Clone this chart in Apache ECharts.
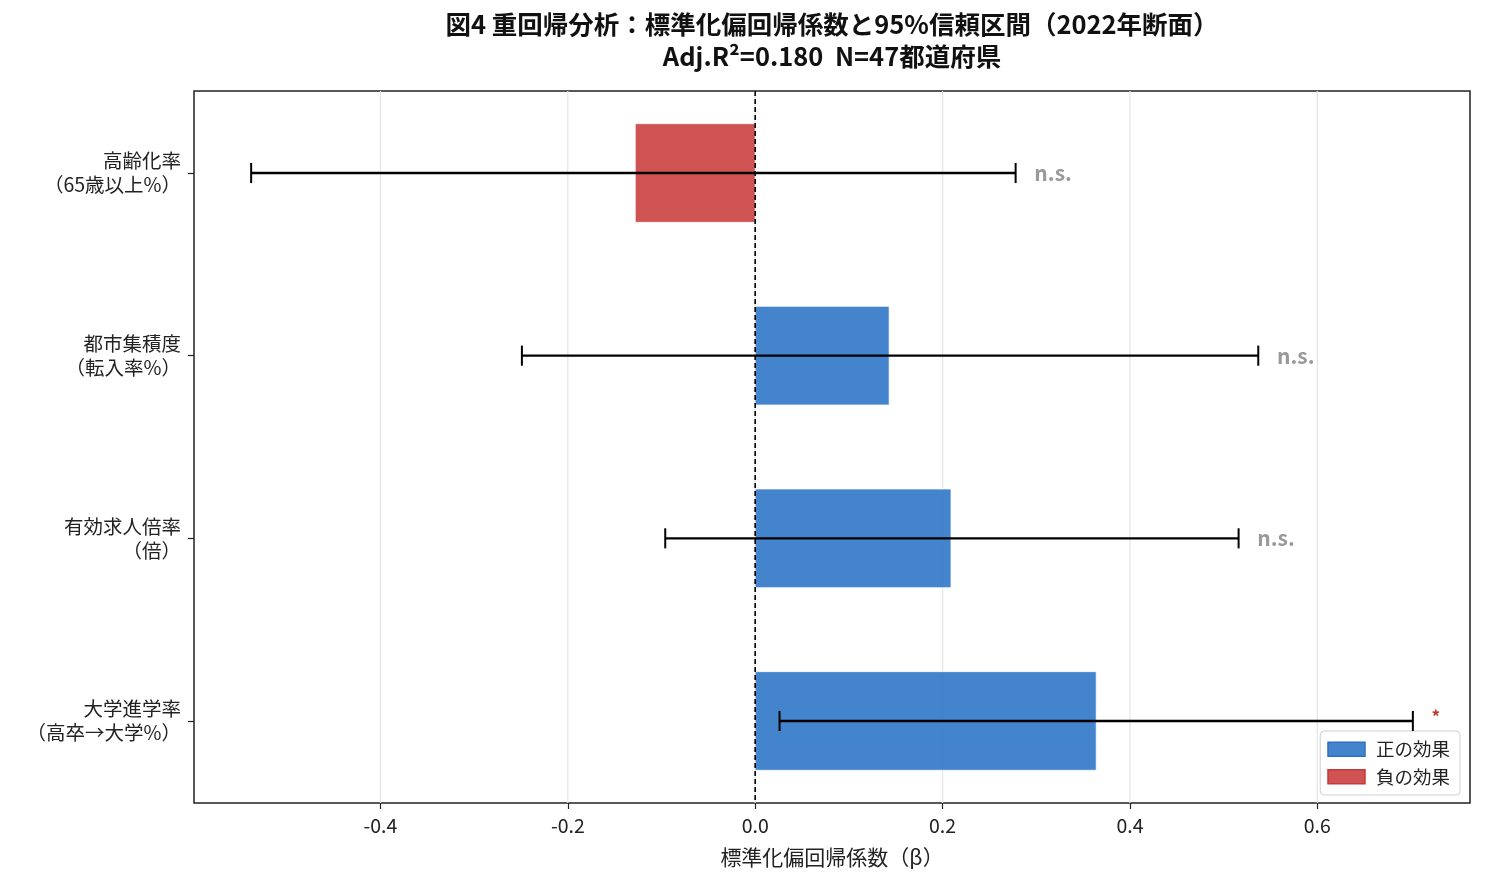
<!DOCTYPE html>
<html>
<head>
<meta charset="utf-8">
<script src="https://cdn.jsdelivr.net/npm/echarts@6/dist/echarts.min.js"></script>
<style>
html,body{margin:0;padding:0;background:#fff;}
#chart{width:1485px;height:885px;}
</style>
</head>
<body>
<div id="chart"></div>
<script>
// ---- data ----
const categories = ['高齢化率\n（65歳以上%）', '都市集積度\n（転入率%）', '有効求人倍率\n（倍）', '大学進学率\n（高卒→大学%）'];
const beta = [-0.128, 0.143, 0.209, 0.364];
const ciLow = [-0.538, -0.249, -0.096, 0.026];
const ciHigh = [0.278, 0.537, 0.516, 0.702];
const sigLabels = ['n.s.', 'n.s.', 'n.s.', '*'];
const xTicks = [-0.4, -0.2, 0.0, 0.2, 0.4, 0.6];
const yTicks = [0, 1, 2, 3];

const FONT = 'Noto Sans CJK JP';
const POS_COLOR = 'rgba(35,110,195,0.85)';
const NEG_COLOR = 'rgba(200,53,53,0.85)';
const BAR_H = 0.54;
const CAP_H = 0.11;

const posData = [], negData = [];
beta.forEach((b, i) => { (b >= 0 ? posData : negData).push([b, i]); });
const errData = beta.map((b, i) => [ciLow[i], i, ciHigh[i]]);
const sigData = beta.map((b, i) => [ciHigh[i], i]);

function renderBar(params, api) {
  const v = api.value(0), i = api.value(1);
  const p0 = api.coord([0, i - BAR_H / 2]);
  const p1 = api.coord([v, i + BAR_H / 2]);
  const x = Math.min(p0[0], p1[0]), y = Math.min(p0[1], p1[1]);
  return {
    type: 'rect',
    shape: { x: x, y: y, width: Math.abs(p1[0] - p0[0]), height: Math.abs(p1[1] - p0[1]) },
    style: { fill: api.visual('color'), stroke: 'rgba(255,255,255,0.7)', lineWidth: 1 }
  };
}

const option = {
  animation: false,
  backgroundColor: '#fff',
  title: {
    text: '図4 重回帰分析：標準化偏回帰係数と95%信頼区間（2022年断面）\nAdj.R²=0.180  N=47都道府県',
    left: 827,
    textAlign: 'center',
    top: 3,
    textStyle: { fontFamily: FONT, fontWeight: 'bold', fontSize: 25.5, lineHeight: 32, color: '#111' }
  },
  legend: {
    orient: 'vertical',
    right: 25,
    bottom: 90,
    icon: 'rect',
    itemWidth: 37,
    itemHeight: 14,
    itemGap: 9,
    padding: [9, 10, 9, 7],
    backgroundColor: '#fff',
    borderColor: '#d0d0d0',
    borderWidth: 1,
    borderRadius: 4,
    textStyle: { fontFamily: FONT, fontSize: 18.5, color: '#222', padding: [0, 0, 0, 6] },
    data: [
      { name: '正の効果', itemStyle: { color: POS_COLOR, borderColor: '#2f6fc0', borderWidth: 1.5 } },
      { name: '負の効果', itemStyle: { color: NEG_COLOR, borderColor: '#c83a3a', borderWidth: 1.5 } }
    ]
  },
  grid: {
    left: 194, right: 15, top: 91, bottom: 82,
    show: true, borderColor: '#222', borderWidth: 1.5, backgroundColor: 'transparent'
  },
  xAxis: {
    type: 'value',
    min: -0.599,
    max: 0.763,
    axisLine: { show: false, onZero: false },
    axisTick: { show: true, customValues: xTicks, length: 6, lineStyle: { color: '#222', width: 1.2 } },
    axisLabel: {
      customValues: xTicks, margin: 13,
      fontFamily: FONT, fontSize: 19.5, color: '#222',
      formatter: v => Number(v).toFixed(1)
    },
    splitLine: { show: false },
    name: '標準化偏回帰係数（β）',
    nameLocation: 'middle',
    nameGap: 44,
    nameTextStyle: { fontFamily: FONT, fontSize: 21, color: '#222' }
  },
  yAxis: {
    type: 'value',
    inverse: true,
    min: -0.449,
    max: 3.449,
    axisLine: { show: false, onZero: false },
    axisTick: { show: true, customValues: yTicks, length: 6, lineStyle: { color: '#222', width: 1.2 } },
    axisLabel: {
      customValues: yTicks, margin: 13,
      fontFamily: FONT, fontSize: 19.5, lineHeight: 24, color: '#222', align: 'right',
      padding: [6, 0, 0, 0],
      formatter: v => categories[Math.round(v)] || ''
    },
    splitLine: { show: false }
  },
  series: [
    {
      type: 'custom', silent: true, z: 1,
      data: xTicks.map(v => [v, 0]),
      renderItem: (params, api) => {
        const cs = params.coordSys;
        const x = api.coord([api.value(0), 0])[0];
        return { type: 'line', shape: { x1: x, y1: cs.y, x2: x, y2: cs.y + cs.height },
          style: { stroke: '#e6e6e6', lineWidth: 1.3 } };
      }
    },
    {
      name: '正の効果', type: 'custom', z: 2,
      itemStyle: { color: POS_COLOR },
      data: posData, renderItem: renderBar
    },
    {
      name: '負の効果', type: 'custom', z: 2,
      itemStyle: { color: NEG_COLOR },
      data: negData, renderItem: renderBar
    },
    {
      type: 'custom', silent: true, z: 3,
      data: [[0, 0]],
      renderItem: (params, api) => {
        const cs = params.coordSys;
        const x = api.coord([0, 0])[0];
        return { type: 'line', shape: { x1: x, y1: cs.y, x2: x, y2: cs.y + cs.height },
          style: { stroke: '#000', lineWidth: 1.6, lineDash: [5, 3] } };
      }
    },
    {
      type: 'custom', silent: true, z: 4,
      data: errData,
      renderItem: (params, api) => {
        const lo = api.value(0), i = api.value(1), hi = api.value(2);
        const a = api.coord([lo, i]), b = api.coord([hi, i]);
        const c1 = api.coord([lo, i - CAP_H / 2]), c2 = api.coord([lo, i + CAP_H / 2]);
        const d1 = api.coord([hi, i - CAP_H / 2]), d2 = api.coord([hi, i + CAP_H / 2]);
        return { type: 'group', children: [
          { type: 'line', shape: { x1: a[0], y1: a[1], x2: b[0], y2: b[1] }, style: { stroke: '#000', lineWidth: 2.4 } },
          { type: 'line', shape: { x1: c1[0], y1: c1[1], x2: c2[0], y2: c2[1] }, style: { stroke: '#000', lineWidth: 2 } },
          { type: 'line', shape: { x1: d1[0], y1: d1[1], x2: d2[0], y2: d2[1] }, style: { stroke: '#000', lineWidth: 2 } }
        ] };
      }
    },
    {
      type: 'custom', silent: true, z: 5,
      data: sigData,
      renderItem: (params, api) => {
        const hi = api.value(0), i = api.value(1);
        const lab = sigLabels[params.dataIndex];
        const p = api.coord([hi + 0.02, i]);
        const star = lab === '*';
        return { type: 'text', x: p[0], y: p[1] + (star ? -4 : 0),
          style: { text: lab, fill: star ? '#c0392b' : '#999999', font: 'bold ' + (star ? 17 : 21) + 'px "' + FONT + '"',
            align: 'left', verticalAlign: 'middle' } };
      }
    }
  ]
};

const chart = echarts.init(document.getElementById('chart'));
chart.setOption(option);
</script>
</body>
</html>
